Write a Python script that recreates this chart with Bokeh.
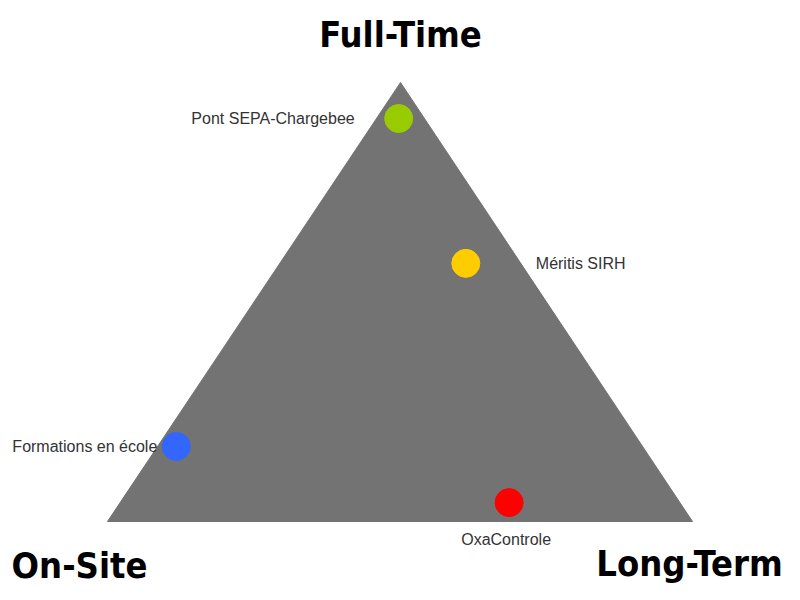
import numpy as np
from bokeh.plotting import figure
from bokeh.models import ColumnDataSource, Label
from bokeh.embed import file_html
from bokeh.resources import INLINE

# Ternary data: shares of (On-Site, Long-Term, Full-Time)
names = ["Pont SEPA-Chargebee", "Méritis SIRH", "Formations en école", "OxaControle"]
on_site = [0.044, 0.094, 0.797, 0.292]
long_term = [0.038, 0.318, 0.032, 0.665]
full_time = [0.918, 0.588, 0.171, 0.043]
colors = ["#99cc00", "#ffcc00", "#3366ff", "#ff0000"]
corner_labels = ["On-Site", "Long-Term", "Full-Time"]

# Triangle frame (vertex positions in plot units)
VA = np.array([107.0, 79.0])   # On-Site
VB = np.array([692.0, 79.0])   # Long-Term
VC = np.array([400.0, 518.0])  # Full-Time

a = np.array(on_site); b = np.array(long_term); c = np.array(full_time)
s = a + b + c
xs = (a * VA[0] + b * VB[0] + c * VC[0]) / s
ys = (a * VA[1] + b * VB[1] + c * VC[1]) / s

p = figure(width=800, height=600, x_range=(0, 800), y_range=(0, 600),
           output_backend="svg", toolbar_location=None, min_border=0)
p.axis.visible = False
p.grid.visible = False
p.outline_line_color = None
p.background_fill_color = "white"

p.patch([VA[0], VB[0], VC[0]], [VA[1], VB[1], VC[1]],
        fill_color="#737373", line_color="#737373")

src = ColumnDataSource(dict(x=xs, y=ys, color=colors, name=names))
p.scatter("x", "y", source=src, size=28, fill_color="color", line_color="color")

# point labels
offs = [(-44, 0, "right", "middle"), (70, 0, "left", "middle"),
        (-19, 0, "right", "middle"), (-3, -37, "center", "middle")]
for i, (dx, dy, al, bl) in enumerate(offs):
    p.add_layout(Label(x=xs[i], y=ys[i], x_offset=dx, y_offset=dy, text=names[i],
                       text_align=al, text_baseline=bl, text_font="Liberation Sans",
                       text_font_size="16px", text_color="#333333"))

# corner labels
corner_pos = [(VA[0], VA[1], -28, -44, "center"), (VB[0], VB[1], -3, -42, "center"),
              (VC[0], VC[1], 0, 48, "center")]
for lab, (x, y, dx, dy, al) in zip(corner_labels, corner_pos):
    p.add_layout(Label(x=x, y=y, x_offset=dx, y_offset=dy, text=lab,
                       text_align=al, text_baseline="middle",
                       text_font="DejaVu Sans Condensed", text_font_style="bold",
                       text_font_size="36px", text_color="#000000"))

open("out.html", "w").write(file_html(p, INLINE))
